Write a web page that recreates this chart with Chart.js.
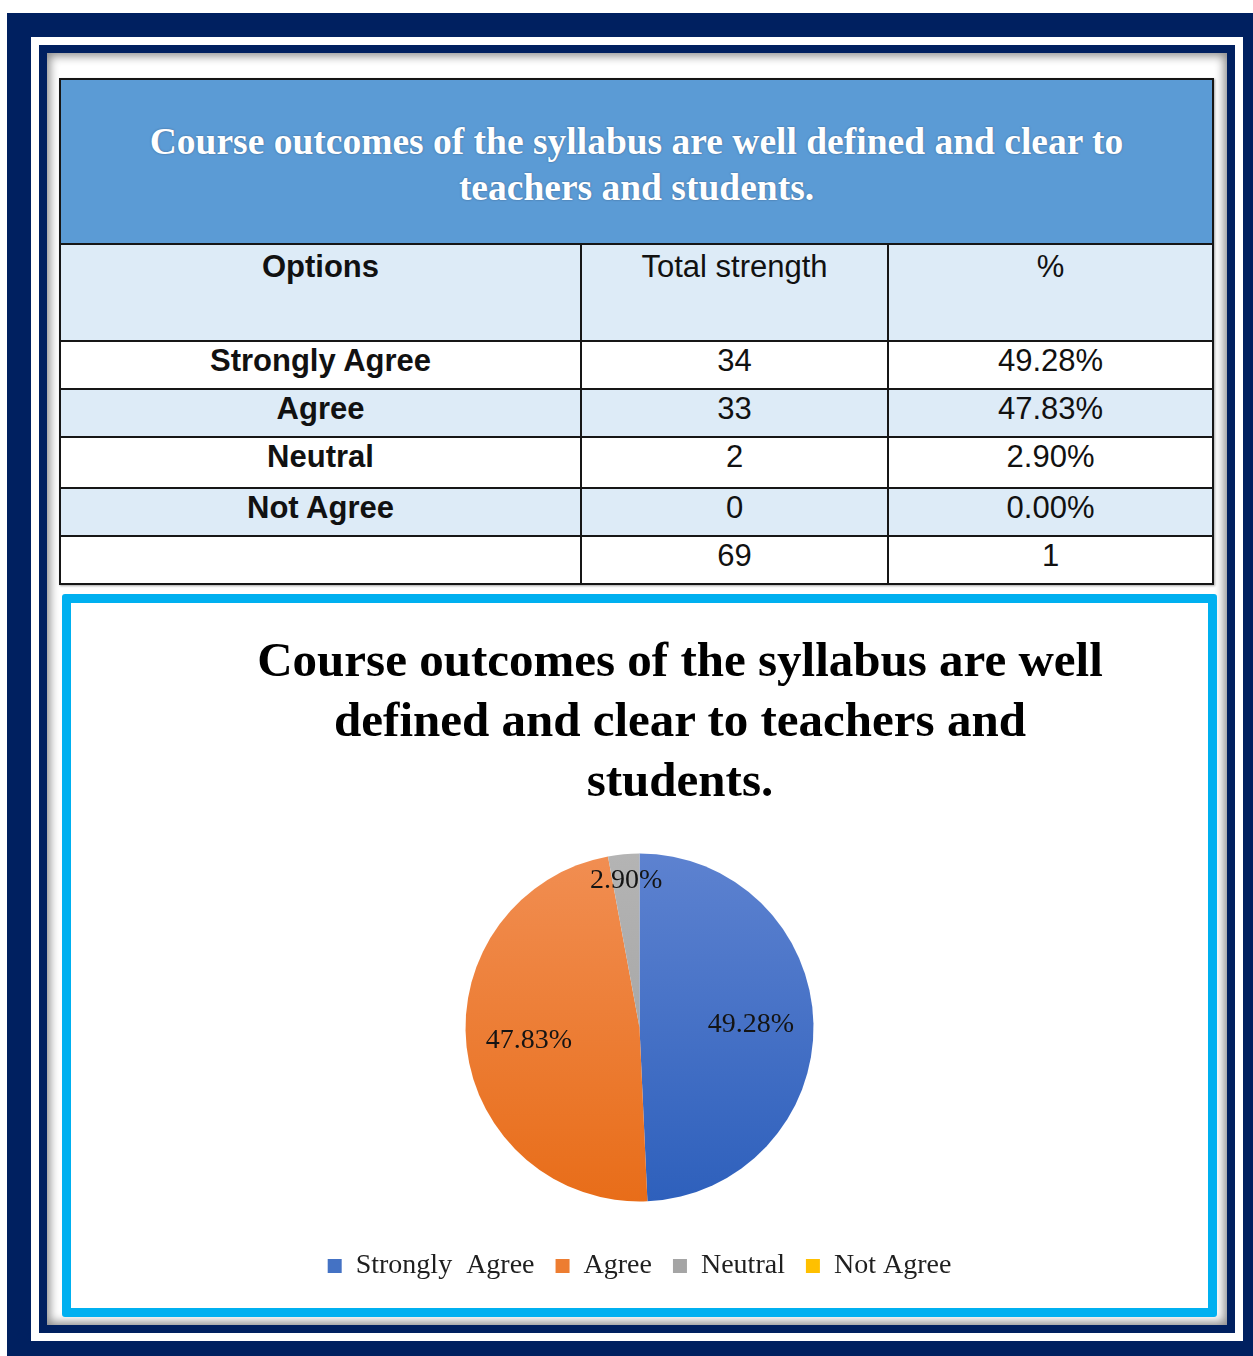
<!DOCTYPE html>
<html>
<head>
<meta charset="utf-8">
<title>Course outcomes survey</title>
<script src="https://cdn.jsdelivr.net/npm/chart.js@4.4.1/dist/chart.umd.min.js"></script>
<style>
  html, body { margin: 0; padding: 0; background: #fff; }
  body { width: 1253px; height: 1356px; position: relative; overflow: hidden; }
  .band { position: absolute; }
  .band.outer { left: 7px; top: 13px; width: 1260px; height: 1360px; background: #002060; }
  .band.gap { left: 31px; top: 37px; width: 1212px; height: 1304px; background: #fff; }
  .band.inner { left: 39px; top: 45px; width: 1196px; height: 1288px; background: #002060; }
  .band.sheet { left: 47px; top: 53px; width: 1180px; height: 1272px; background: #fff;
    box-shadow: inset 0 0 10px 3px rgba(0, 0, 0, 0.45); }

  table.summary {
    position: absolute; left: 59px; top: 78px; width: 1153px;
    border-collapse: collapse; table-layout: fixed;
    font-family: "Liberation Sans", Arial, sans-serif; font-size: 31px; color: #111;
    box-shadow: 1px 1px 2px rgba(0, 0, 0, 0.35);
  }
  table.summary td { border: 2px solid #161616; text-align: center; vertical-align: top;
    padding: 2px 0 0 0; line-height: 34px; }
  table.summary td.heading { background: #5b9bd5; color: #fff; vertical-align: middle;
    font-family: "Liberation Serif", "Times New Roman", serif; font-weight: bold;
    font-size: 37.5px; line-height: 46px; padding: 7px 0 0 0;
    text-shadow: 0 0 2px rgba(40, 60, 90, 0.6); }
  table.summary tr.cols td { background: #ddebf7; padding-top: 5px; }
  table.summary tr.cols td.first { font-weight: bold; }
  table.summary tr.alt td { background: #ddebf7; }
  table.summary td.label { font-weight: bold; }

  .chart-box { position: absolute; left: 62px; top: 594px; width: 1155px; height: 723px;
    box-sizing: border-box; border: 9px solid #00b0f0; border-radius: 3px; background: #fff; }
  .chart-wrap { position: absolute; left: 0; top: 0; width: 1137px; height: 705px; }
  .chart-title { position: absolute; left: 109px; top: 27px; width: 1000px; text-align: center;
    font-family: "Liberation Serif", "Times New Roman", serif; font-weight: bold;
    font-size: 49px; line-height: 60px; color: #000; z-index: 2; }
</style>
</head>
<body>
<div class="band outer"></div>
<div class="band gap"></div>
<div class="band inner"></div>
<div class="band sheet"></div>

<table class="summary" id="summary">
  <colgroup><col style="width:521px"><col style="width:307px"><col style="width:325px"></colgroup>
  <tr style="height:165px"><td class="heading" colspan="3">Course outcomes of the syllabus are well defined and clear to<br>teachers and students.</td></tr>
  <tr class="cols" style="height:97px"><td class="first">Options</td><td>Total strength</td><td>%</td></tr>
</table>

<div class="chart-box">
  <div class="chart-title">Course outcomes of the syllabus are well<br>defined and clear to teachers and<br>students.</div>
  <div class="chart-wrap"><canvas id="outcomePie"></canvas></div>
</div>

<script>
// survey responses
const tableLabels = ['Strongly Agree', 'Agree', 'Neutral', 'Not Agree'];
const pieLabels = ['Strongly  Agree', 'Agree', 'Neutral', 'Not Agree'];
const totals = [34, 33, 2, 0];
const percents = [49.28, 47.83, 2.90, 0.00];
const grandTotal = 69;
const percentTotal = 1;

const legendColors = ['#4472c4', '#ed7d31', '#a5a5a5', '#ffc000'];
const shadeTop = ['#5d82d0', '#f18e52', '#b4b4b4', '#ffc83a'];
const shadeBottom = ['#2e60bc', '#e86d19', '#9c9c9c', '#f5b800'];
const pieRadius = 174;

// fill the table body from the arrays
const table = document.getElementById('summary');
const rowHeights = [48, 48, 51, 48];
tableLabels.forEach((name, i) => {
  const tr = table.insertRow();
  tr.style.height = rowHeights[i] + 'px';
  if (i % 2 === 1) tr.className = 'alt';
  tr.innerHTML = '<td class="label">' + name + '</td><td>' + totals[i] + '</td><td>' + percents[i].toFixed(2) + '%</td>';
});
const totalRow = table.insertRow();
totalRow.style.height = '48px';
totalRow.innerHTML = '<td></td><td>' + grandTotal + '</td><td>' + percentTotal + '</td>';

function sliceFill(context) {
  const i = context.dataIndex;
  const area = context.chart.chartArea;
  if (!area) return legendColors[i];
  const cy = (area.top + area.bottom) / 2;
  const g = context.chart.ctx.createLinearGradient(0, cy - pieRadius, 0, cy + pieRadius);
  g.addColorStop(0, shadeTop[i]);
  g.addColorStop(1, shadeBottom[i]);
  return g;
}

// percentage text inside each slice, small slices pushed towards the rim
const sliceLabels = {
  id: 'sliceLabels',
  afterDatasetsDraw(chart) {
    const ctx = chart.ctx;
    const meta = chart.getDatasetMeta(0);
    ctx.save();
    ctx.font = '28px "Liberation Serif", "Times New Roman", serif';
    ctx.fillStyle = '#141414';
    ctx.textAlign = 'center';
    ctx.textBaseline = 'middle';
    meta.data.forEach((arc, i) => {
      const v = percents[i];
      if (!v) return;
      const p = arc.getProps(['x', 'y', 'startAngle', 'endAngle', 'outerRadius'], true);
      const mid = (p.startAngle + p.endAngle) / 2;
      const k = v < 5 ? 0.85 : 0.64;
      ctx.fillText(v.toFixed(2) + '%', p.x + Math.cos(mid) * p.outerRadius * k, p.y + Math.sin(mid) * p.outerRadius * k);
    });
    ctx.restore();
  }
};

new Chart(document.getElementById('outcomePie'), {
  type: 'pie',
  data: {
    labels: pieLabels,
    datasets: [{
      data: percents,
      backgroundColor: sliceFill,
      borderWidth: 0,
      radius: pieRadius
    }]
  },
  options: {
    responsive: true,
    maintainAspectRatio: false,
    animation: false,
    layout: { padding: { top: 221, bottom: 18 } },
    plugins: {
      title: { display: false },
      tooltip: { enabled: false },
      legend: {
        position: 'bottom',
        labels: {
          boxWidth: 14,
          boxHeight: 14,
          padding: 21,
          color: '#1f1f1f',
          font: { family: '"Liberation Serif", "Times New Roman", serif', size: 28 },
          generateLabels(chart) {
            return chart.data.labels.map((text, i) => ({
              text: text,
              fillStyle: legendColors[i],
              strokeStyle: legendColors[i],
              lineWidth: 0,
              hidden: false,
              index: i,
              fontColor: '#1f1f1f'
            }));
          }
        }
      }
    }
  },
  plugins: [sliceLabels]
});
</script>
</body>
</html>
